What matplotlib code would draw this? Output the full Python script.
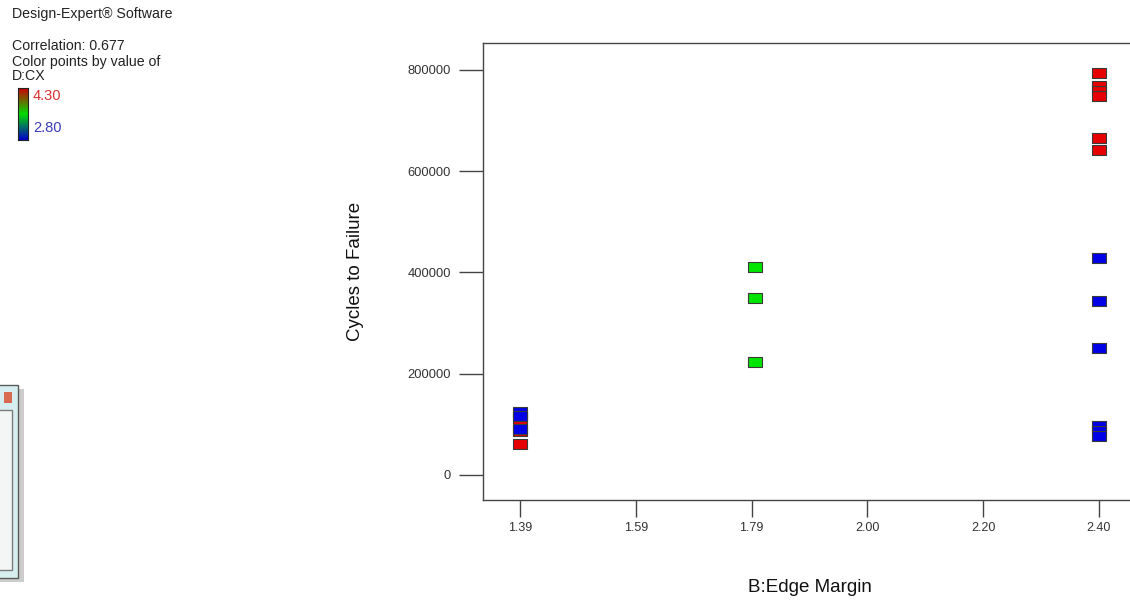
import numpy as np
import matplotlib
matplotlib.use("Agg")
import matplotlib.pyplot as plt
from matplotlib.colors import LinearSegmentedColormap
from matplotlib.patches import Rectangle

plt.rcParams["font.family"] = ["Liberation Sans", "DejaVu Sans"]

# data: B:Edge Margin vs Cycles to Failure, coloured by D:CX
red_x = [1.39, 1.39, 1.39, 2.40, 2.40, 2.40, 2.40, 2.40, 2.40]
red_y = [110000, 87000, 62000, 795000, 768000, 758000, 748000, 666000, 642000]
green_x = [1.80, 1.80, 1.80]
green_y = [410000, 349000, 224000]
blue_x = [1.39, 1.39, 1.39, 2.40, 2.40, 2.40, 2.40, 2.40, 2.40]
blue_y = [124000, 116000, 91000, 429000, 343000, 250000, 96000, 86000, 78000]

x_ticks = np.linspace(1.39, 2.40, 6)
x_labels = ["1.39", "1.59", "1.79", "2.00", "2.20", "2.40"]
y_ticks = [0, 200000, 400000, 600000, 800000]
y_labels = ["0", "200000", "400000", "600000", "800000"]

W, H = 1130, 604
fig = plt.figure(figsize=(W / 100, H / 100), dpi=100)


def fx(px):
    return px / W


def fy(py):
    return 1 - py / H


ax = fig.add_axes([fx(483), fy(500), fx(1136) - fx(483), fy(43) - fy(500)])
ax.set_xlim(1.325, 2.465)
ax.set_ylim(-49400, 853300)

rect = [(-1, -0.66), (1, -0.66), (1, 0.66), (-1, 0.66), (-1, -0.66)]
kw = dict(marker=rect, s=112, edgecolors="#3a3a3a", linewidths=0.8, zorder=3)
ax.scatter(red_x, red_y, c="#e60000", **kw)
ax.scatter(green_x, green_y, c="#00e600", **kw)
ax.scatter(blue_x, blue_y, c="#0000e6", **kw)

ax.set_xticks(x_ticks)
ax.set_xticklabels(x_labels)
ax.set_yticks(y_ticks)
ax.set_yticklabels(y_labels)
ax.tick_params(axis="x", length=12, width=1, colors="#444444", labelcolor="#333333",
               labelsize=9, pad=4)
ax.tick_params(axis="y", length=17, width=1, colors="#444444", labelcolor="#333333",
               labelsize=9.3, pad=6)
for sp in ax.spines.values():
    sp.set_color("#444444")
    sp.set_linewidth(1)

ax.set_xlabel("B:Edge Margin", fontsize=13.5, color="#111111")
ax.xaxis.set_label_coords(0.5, -(588 - 500) / 457)
ax.xaxis.label.set_va("center")
ax.set_ylabel("Cycles to Failure", fontsize=13.5, color="#111111")
ax.yaxis.set_label_coords((355 - 483) / 653, 0.5)
ax.yaxis.label.set_va("center")

# header text
hdr = dict(fontsize=10.2, color="#222222", va="center")
fig.text(fx(12), fy(14), "Design-Expert\u00ae Software", **hdr)
fig.text(fx(12), fy(46), "Correlation: 0.677", **hdr)
fig.text(fx(12), fy(62), "Color points by value of", **hdr)
fig.text(fx(12), fy(76), "D:CX", **hdr)

# colour key
cmap = LinearSegmentedColormap.from_list("cx", ["#0000cc", "#00dd00", "#cc0000"])
cax = fig.add_axes([fx(18), fy(140), fx(10), fy(88) - fy(140)])
cax.imshow(np.linspace(0, 1, 100).reshape(-1, 1), cmap=cmap, aspect="auto",
           origin="lower", extent=[0, 1, 0, 1])
cax.set_xticks([])
cax.set_yticks([])
for sp in cax.spines.values():
    sp.set_color("#222222")
    sp.set_linewidth(0.8)
fig.text(fx(33), fy(96), "4.30", fontsize=10.5, color="#d83030", va="center")
fig.text(fx(33), fy(128), "2.80", fontsize=10.5, color="#3a3ab8", va="center")

# fragment of a window at the left edge
fig.patches.append(Rectangle((fx(0), fy(582)), fx(24), fy(389) - fy(582),
                             transform=fig.transFigure, facecolor="#9a9a9a",
                             edgecolor="none", alpha=0.5, zorder=0))
fig.patches.append(Rectangle((fx(-2), fy(578)), fx(20), fy(385) - fy(578),
                             transform=fig.transFigure, facecolor="#d6eef0",
                             edgecolor="#5a5a5a", linewidth=1, zorder=1))
fig.patches.append(Rectangle((fx(-2), fy(570)), fx(14), fy(410) - fy(570),
                             transform=fig.transFigure, facecolor="#f4f6f6",
                             edgecolor="#7a7a7a", linewidth=1, zorder=2))
fig.patches.append(Rectangle((fx(4), fy(403)), fx(8), fy(392) - fy(403),
                             transform=fig.transFigure, facecolor="#d86a50",
                             edgecolor="none", zorder=2))

fig.savefig("out.png", dpi=100)
